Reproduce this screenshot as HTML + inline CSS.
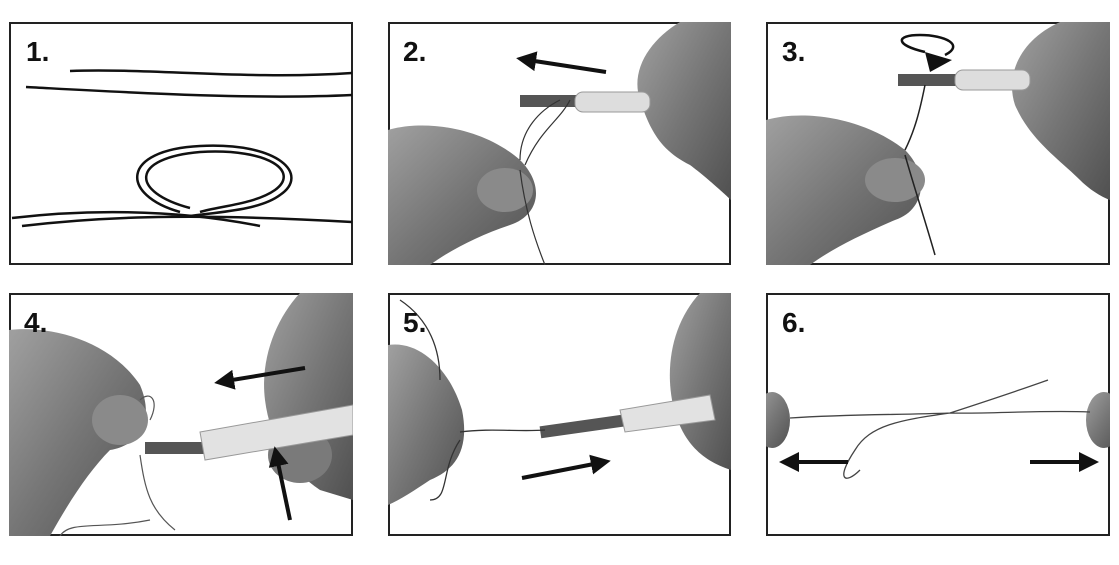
<!DOCTYPE html>
<html><head><meta charset="utf-8"><style>
html,body{margin:0;padding:0;background:#fff;}
svg{display:block}
text{font-family:"Liberation Sans",Arial,sans-serif;font-weight:bold;font-size:28px;fill:#111}
</style></head><body>
<svg width="1119" height="565" viewBox="0 0 1119 565" xmlns="http://www.w3.org/2000/svg">
<defs>
<linearGradient id="h" x1="0" y1="0" x2="1" y2="1">
<stop offset="0" stop-color="#a0a0a0"/><stop offset="0.5" stop-color="#767676"/><stop offset="1" stop-color="#505050"/>
</linearGradient>
<marker id="a" markerWidth="5" markerHeight="5" refX="2" refY="2.5" orient="auto" markerUnits="strokeWidth">
<path d="M0,0 L5,2.5 L0,5 Z" fill="#111"/></marker>
<clipPath id="c2"><rect x="388" y="22" width="343" height="243"/></clipPath>
<clipPath id="c3"><rect x="766" y="22" width="344" height="243"/></clipPath>
<clipPath id="c4"><rect x="9" y="293" width="344" height="243"/></clipPath>
<clipPath id="c5"><rect x="388" y="293" width="343" height="243"/></clipPath>
<clipPath id="c6"><rect x="766" y="293" width="344" height="243"/></clipPath>
</defs>

<rect x="10" y="23" width="342" height="241" fill="#fff" stroke="#222" stroke-width="2"/>
<text x="26" y="61">1.</text>
<g fill="none" stroke="#111" stroke-width="2.5">
<path d="M70,71 C150,68 250,80 352,73"/>
<path d="M26,87 C120,92 250,100 352,95"/>
<path d="M12,218 C80,210 170,208 260,226"/>
<path d="M22,226 C90,218 180,212 352,222"/>
<path d="M180,212 C120,195 120,150 200,146 C280,142 310,175 280,195 C260,210 220,212 190,216"/>
<path d="M190,208 C130,192 130,158 200,152 C270,148 300,172 275,190 C255,204 220,206 200,212"/>
</g>

<rect x="389" y="23" width="341" height="241" fill="#fff" stroke="#222" stroke-width="2"/>
<g clip-path="url(#c2)">
<path d="M388,130 C420,120 480,125 520,160 C545,185 540,215 510,225 C480,235 450,250 430,265 L388,265 Z" fill="url(#h)"/>
<ellipse cx="505" cy="190" rx="28" ry="22" fill="#8a8a8a"/>
<path d="M731,22 L680,22 C650,40 630,70 640,100 C650,130 660,150 690,165 C710,180 731,200 731,200 Z" fill="url(#h)"/>
<rect x="520" y="95" width="60" height="12" fill="#555"/>
<rect x="575" y="92" width="75" height="20" rx="8" fill="#ddd" stroke="#999"/>
<path d="M520,160 C520,130 540,110 560,100 M525,165 C540,130 560,120 570,100 M520,170 C525,210 535,240 545,265" stroke="#333" stroke-width="1.2" fill="none"/>
</g>
<text x="403" y="61">2.</text>
<line x1="606" y1="72" x2="528" y2="60" stroke="#111" stroke-width="4" marker-end="url(#a)"/>

<rect x="767" y="23" width="342" height="241" fill="#fff" stroke="#222" stroke-width="2"/>
<g clip-path="url(#c3)">
<path d="M766,120 C800,110 860,115 905,150 C930,175 925,210 895,220 C860,235 830,250 810,265 L766,265 Z" fill="url(#h)"/>
<ellipse cx="895" cy="180" rx="30" ry="22" fill="#8a8a8a"/>
<path d="M1110,22 L1060,22 C1020,40 1005,75 1015,105 C1030,140 1060,160 1080,180 C1095,195 1110,200 1110,200 Z" fill="url(#h)"/>
<rect x="898" y="74" width="60" height="12" fill="#555"/>
<rect x="955" y="70" width="75" height="20" rx="8" fill="#ddd" stroke="#999"/>
<path d="M905,150 C915,130 920,110 925,85 M905,155 C915,190 925,220 935,255" stroke="#222" stroke-width="1.5" fill="none"/>
</g>
<text x="782" y="61">3.</text>
<path d="M925,52 C895,45 895,35 920,35 C945,35 965,45 945,55" fill="none" stroke="#111" stroke-width="2.5"/>
<path d="M925,52 L952,60 L930,72 Z" fill="#111"/>

<rect x="10" y="294" width="342" height="241" fill="#fff" stroke="#222" stroke-width="2"/>
<g clip-path="url(#c4)">
<path d="M9,330 C50,325 110,340 140,385 C155,420 140,445 110,450 C90,470 70,500 50,536 L9,536 Z" fill="url(#h)"/>
<ellipse cx="120" cy="420" rx="28" ry="25" fill="#8a8a8a"/>
<path d="M353,293 L300,293 C275,320 260,360 265,400 C270,440 290,470 320,490 L353,500 Z" fill="url(#h)"/>
<ellipse cx="300" cy="455" rx="32" ry="28" fill="#7a7a7a"/>
<rect x="145" y="442" width="60" height="12" fill="#555"/>
<path d="M200,432 L353,405 L353,435 L205,460 Z" fill="#e2e2e2" stroke="#999"/>
<path d="M140,400 C150,390 160,400 150,420 M140,455 C145,490 150,510 175,530 M150,520 C100,530 70,520 60,536" stroke="#555" stroke-width="1.2" fill="none"/>
</g>
<text x="24" y="332">4.</text>
<line x1="305" y1="368" x2="226" y2="381" stroke="#111" stroke-width="4" marker-end="url(#a)"/>
<line x1="290" y1="520" x2="277" y2="458" stroke="#111" stroke-width="4" marker-end="url(#a)"/>

<rect x="389" y="294" width="341" height="241" fill="#fff" stroke="#222" stroke-width="2"/>
<g clip-path="url(#c5)">
<path d="M388,345 C420,340 450,370 462,410 C470,450 455,470 430,480 C415,490 400,500 388,505 Z" fill="url(#h)"/>
<path d="M731,293 L700,293 C675,320 665,360 672,400 C680,440 700,460 731,470 Z" fill="url(#h)"/>
<rect x="540" y="420" width="90" height="12" fill="#555" transform="rotate(-8 585 426)"/>
<path d="M620,410 L710,395 L715,420 L625,432 Z" fill="#e2e2e2" stroke="#999"/>
<path d="M460,432 C490,428 520,432 545,430 M400,300 C430,320 440,350 440,380 M460,440 C440,470 450,500 430,500" stroke="#333" stroke-width="1.3" fill="none"/>
</g>
<text x="403" y="332">5.</text>
<line x1="522" y1="478" x2="599" y2="463" stroke="#111" stroke-width="4" marker-end="url(#a)"/>

<rect x="767" y="294" width="342" height="241" fill="#fff" stroke="#222" stroke-width="2"/>
<g clip-path="url(#c6)">
<ellipse cx="772" cy="420" rx="18" ry="28" fill="url(#h)"/>
<ellipse cx="1104" cy="420" rx="18" ry="28" fill="url(#h)"/>
<path d="M790,418 C850,414 900,415 950,413 C990,414 1040,410 1090,412 M950,413 C990,400 1020,390 1048,380 M950,413 C900,420 870,425 855,450 C835,480 845,485 860,470" stroke="#444" stroke-width="1.3" fill="none"/>
</g>
<text x="782" y="332">6.</text>
<line x1="848" y1="462" x2="791" y2="462" stroke="#111" stroke-width="4" marker-end="url(#a)"/>
<line x1="1030" y1="462" x2="1087" y2="462" stroke="#111" stroke-width="4" marker-end="url(#a)"/>
</svg>
</body></html>
